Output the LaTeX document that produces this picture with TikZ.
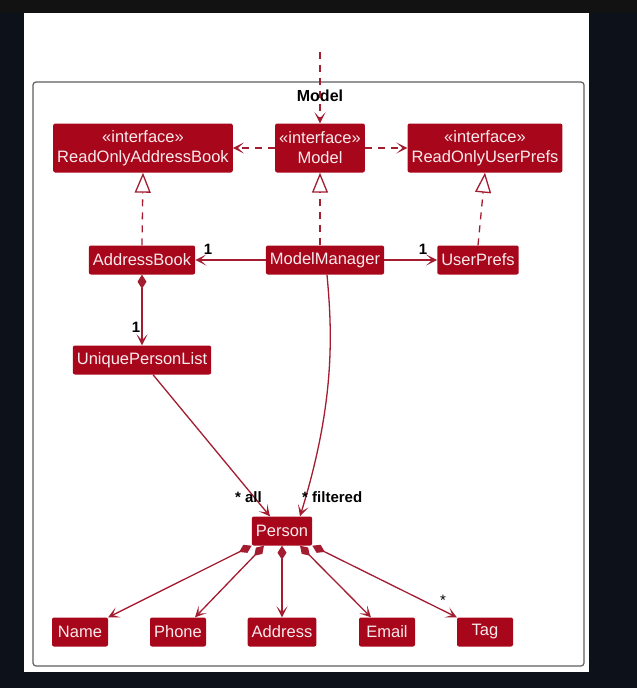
\documentclass[tikz,border=0pt]{standalone}
\usepackage{fontspec}
\setmainfont{Liberation Sans}
\usetikzlibrary{arrows.meta, positioning}

\definecolor{umlred}{RGB}{168,6,26}
\definecolor{umlline}{RGB}{163,28,48}
\definecolor{pagedark}{RGB}{13,17,25}
\definecolor{bandtop}{RGB}{18,18,18}
\definecolor{framegray}{RGB}{95,95,95}

\begin{document}
\begin{tikzpicture}[x=1pt, y=-1pt, >={Stealth[length=11pt, width=11pt, inset=6pt]},
  cls/.style={fill=umlred, text=white!92!umlred, rounded corners=2pt,
    font=\fontsize{16.5}{20}\selectfont, inner xsep=4pt,
    minimum height=29pt, minimum width=56pt},
  iface/.style={cls, align=center, minimum height=49pt},
  link/.style={draw=umlline, line width=1.3pt},
  dep/.style={link, dash pattern=on 7pt off 6pt, ->},
  real/.style={link, dash pattern=on 7pt off 6pt,
    -{Triangle[open, length=20pt, width=16pt, fill=white]}},
  comp/.style={link, {Diamond[length=14pt, width=9pt]}->},
  mult/.style={font=\bfseries\fontsize{15}{18}\selectfont, inner sep=0pt}]

  % Page and frame
  \useasboundingbox (0,0) rectangle (637,688);
  \fill[pagedark] (0,0) rectangle (637,688);
  \fill[bandtop] (0,0) rectangle (637,13);
  \fill[white] (24,13) rectangle (589,672);
  \draw[framegray, line width=1.2pt, rounded corners=3pt] (33,82) rectangle (584,666);
  \node[font=\bfseries\fontsize{16}{20}\selectfont] (title) at (320,96) {Model};

  % Interfaces
  \node[iface] (roab) at (143,148) {«interface»\\ReadOnlyAddressBook};
  \node[iface] (model) at (320,148) {«interface»\\Model};
  \node[iface] (roup) at (485,148) {«interface»\\ReadOnlyUserPrefs};

  % Classes
  \node[cls] (ab) at (142,260) {AddressBook};
  \node[cls] (mm) at (325,260) {ModelManager};
  \node[cls] (up) at (478,260) {UserPrefs};
  \node[cls] (upl) at (142,360) {UniquePersonList};
  \node[cls] (person) at (282,531) {Person};

  % Person attributes
  \node[cls] (name) at (80,632) {Name};
  \node[cls] (phone) at (178,632) {Phone};
  \node[cls] (address) at (282,632) {Address};
  \node[cls] (email) at (387,632) {Email};
  \node[cls] (tag) at (485,632) {Tag};

  % Dependencies
  \coordinate (ext) at (320,52);
  \draw[dep] (ext) -- (model.north);
  \draw[dep] (model.west) -- (roab.east);
  \draw[dep] (model.east) -- (roup.west);

  % Realizations
  \draw[real] (ab.north) -- (roab.south);
  \draw[real] (mm.north -| model.south) -- (model.south);
  \draw[real] (up.north) -- (roup.south);

  % Associations
  \draw[link, ->] (mm.west) -- (ab.east);
  \node[mult] (abone) at (208,249) {1};
  \draw[link, ->] (mm.east) -- (up.west);
  \node[mult] (upone) at (423,249) {1};
  \draw[comp] (ab.south) -- (upl.north);
  \node[mult] (uplone) at (136,327) {1};

  \draw[link, ->] ([xshift=11pt]upl.south) -- ([xshift=-12pt]person.north);
  \node[mult, anchor=east] (all) at (262,497) {* all};
  \draw[link, ->] ([xshift=2pt]mm.south) .. controls (332,330) and (336,400)
    .. ([xshift=18pt]person.north);
  \node[mult, anchor=west] (filtered) at (302,497) {* filtered};

  % Compositions of Person
  \draw[comp] (person.south west) -- (name.north east);
  \draw[comp] ([xshift=-18pt]person.south) -- ([xshift=17pt]phone.north);
  \draw[comp] (person.south) -- (address.north);
  \draw[comp] ([xshift=18pt]person.south) -- ([xshift=-16pt]email.north);
  \draw[comp] (person.south east) -- (tag.north west);
  \node[font=\fontsize{15}{18}\selectfont, inner sep=0pt] (tagmany) at (443,600) {*};
\end{tikzpicture}
\end{document}
